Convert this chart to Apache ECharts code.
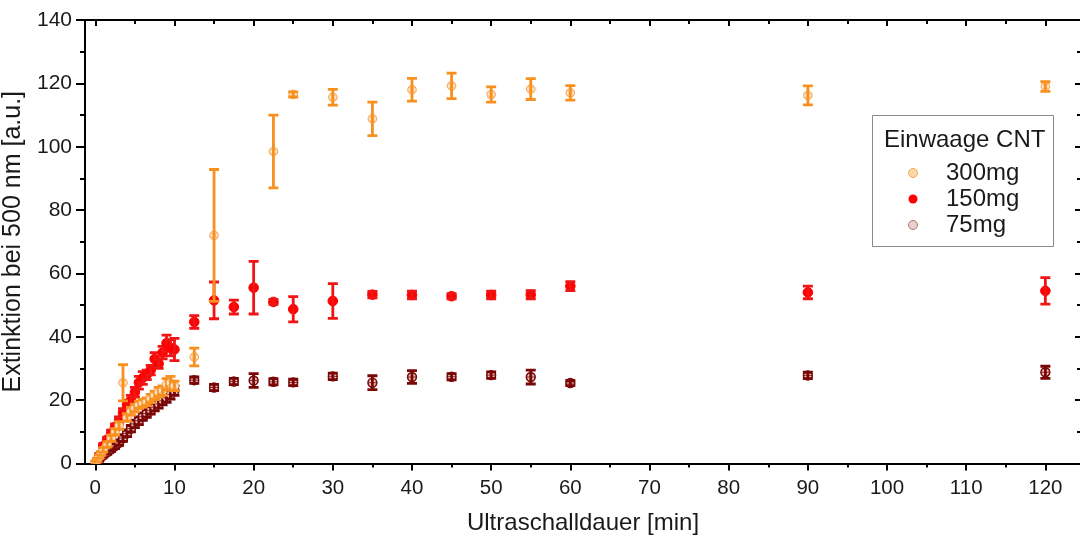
<!DOCTYPE html>
<html>
<head>
<meta charset="utf-8">
<script src="https://cdn.jsdelivr.net/npm/echarts@6/dist/echarts.min.js"></script>
<style>
html,body{margin:0;padding:0;background:#fff;}
#c{width:1080px;height:543px;}
</style>
</head>
<body>
<div id="c"></div>
<script>
// ---- data (time in min, extinction, error) ----
const t300 = [0, 0.25, 0.5, 0.75, 1, 1.5, 2, 2.5, 3, 3.5, 4, 4.5, 5, 5.5, 6, 6.5, 7, 7.5, 8, 8.5, 9, 9.5, 10, 12.5, 15, 22.5, 25, 30, 35, 40, 45, 50, 55, 60, 90, 120];
const v300 = [0.3, 1.2, 2.2, 3.2, 4.3, 6, 8, 10, 12, 25.5, 14.5, 16.5, 17.5, 18.5, 19, 19.5, 20.5, 21.5, 22.5, 23, 25, 25.5, 24.5, 33.6, 72, 98.5, 116.5, 115.6, 108.8, 118, 119.2, 116.5, 118.2, 117, 116.2, 119];
const e300 = [0.5, 0.5, 0.6, 0.6, 0.7, 0.8, 1, 1, 1.2, 5.7, 1.2, 1.2, 1.2, 1.2, 1.2, 1.2, 1.3, 1.3, 1.5, 1.5, 1.8, 2, 1.5, 2.8, 20.8, 11.5, 0.8, 2.5, 5.3, 3.6, 4, 2.4, 3.3, 2.3, 3, 1.5];

const t150 = [0.25, 0.5, 1, 1.5, 2, 2.5, 3, 3.5, 4, 4.5, 5, 5.5, 6, 6.5, 7, 7.5, 8, 8.5, 9, 9.5, 10, 12.5, 15, 17.5, 20, 22.5, 25, 30, 35, 40, 45, 50, 55, 60, 90, 120];
const v150 = [1, 2.5, 5.5, 7.5, 9.5, 11.5, 13.5, 16, 18.5, 20, 22.5, 25.5, 27, 28, 29.5, 33, 31.5, 35, 38, 36.5, 36, 44.7, 51.5, 49.4, 55.5, 51, 48.7, 51.3, 53.3, 53.2, 52.8, 53.2, 53.3, 56, 54, 54.5];
const e150 = [0.5, 0.6, 0.8, 0.8, 1, 1, 1.2, 1.3, 1.5, 1.5, 1.5, 2, 2, 1.5, 1.5, 2, 1.5, 2, 2.5, 2.5, 3.5, 2, 5.8, 2.2, 8.3, 0.8, 4, 5.5, 1, 1.2, 0.8, 1.2, 1.3, 1.4, 2, 4.2];

const t75 = [0.25, 0.5, 1, 1.5, 2, 2.5, 3, 3.5, 4, 4.5, 5, 5.5, 6, 6.5, 7, 7.5, 8, 8.5, 9, 9.5, 10, 12.5, 15, 17.5, 20, 22.5, 25, 30, 35, 40, 45, 50, 55, 60, 90, 120];
const v75 = [0.5, 1.2, 2.5, 3.5, 4.5, 5.5, 6.5, 8, 9.5, 11, 12.5, 13.5, 14.8, 15.8, 16.8, 17.8, 18.8, 19.8, 20.8, 21.8, 23, 26.3, 24, 25.9, 26.2, 25.8, 25.6, 27.5, 25.5, 27.3, 27.4, 27.9, 27.3, 25.4, 27.8, 28.8];
const e75 = [0.3, 0.4, 0.5, 0.6, 0.7, 0.8, 0.8, 1, 1, 1, 1.2, 1.2, 1.2, 1.2, 1.2, 1.2, 1.3, 1.3, 1.5, 1.5, 1.5, 1, 1, 1, 2.2, 1, 1, 1, 2.2, 2, 1, 1, 2.2, 0.8, 1, 1.9];

const seriesNames = ['300mg', '150mg', '75mg'];
const xMajorTicks = [0, 10, 20, 30, 40, 50, 60, 70, 80, 90, 100, 110, 120];
const xMinorTicks = [5, 15, 25, 35, 45, 55, 65, 75, 85, 95, 105, 115];

const FONT = '"Liberation Sans", Arial, sans-serif';
const X_MIN = -1.3, X_MAX = 124.5;

function rows(t, v, e) { return t.map((x, i) => [x, v[i], e[i]]); }

function makeRender(st) {
  return function (params, api) {
    const x = api.value(0), y = api.value(1), e = api.value(2);
    const c = api.coord([x, y]);
    const top = api.coord([x, y + e])[1];
    const bot = api.coord([x, y - e])[1];
    const hw = 5;
    const ls = { stroke: st.bar, lineWidth: 2.8 };
    const ch = [
      { type: 'circle', shape: { cx: c[0], cy: c[1], r: st.r }, style: { fill: st.fill, stroke: st.stroke, lineWidth: st.lw } }
    ];
    const r = st.r * 0.7;
    if (st.cross === 'x') {
      ch.push({ type: 'line', shape: { x1: c[0] - r, y1: c[1] - r, x2: c[0] + r, y2: c[1] + r }, style: { stroke: st.stroke, lineWidth: 0.8 } });
      ch.push({ type: 'line', shape: { x1: c[0] - r, y1: c[1] + r, x2: c[0] + r, y2: c[1] - r }, style: { stroke: st.stroke, lineWidth: 0.8 } });
    } else if (st.cross === '+') {
      ch.push({ type: 'line', shape: { x1: c[0] - st.r, y1: c[1], x2: c[0] + st.r, y2: c[1] }, style: { stroke: st.stroke, lineWidth: 0.8 } });
    }
    ch.push(
      { type: 'line', shape: { x1: c[0], y1: top, x2: c[0], y2: bot }, style: ls },
      { type: 'line', shape: { x1: c[0] - hw, y1: top, x2: c[0] + hw, y2: top }, style: ls },
      { type: 'line', shape: { x1: c[0] - hw, y1: bot, x2: c[0] + hw, y2: bot }, style: ls }
    );
    return { type: 'group', children: ch };
  };
}

const st300 = { bar: '#f7901e', fill: '#fde4c6', stroke: '#f5a14a', lw: 1, r: 4.3, cross: 'x' };
const st150 = { bar: '#f01414', fill: '#ff0000', stroke: '#ff0000', lw: 1, r: 4.8, cross: null };
const st75 = { bar: '#7a0606', fill: '#e6c2bd', stroke: '#7a0a0a', lw: 1.6, r: 4.4, cross: '+' };

const axisLineStyle = { color: '#000', width: 2 };
function xAx(pos, ticks, len, inside, showLine) {
  return {
    type: 'value', position: pos, min: X_MIN, max: X_MAX,
    axisLine: { show: showLine, onZero: false, lineStyle: axisLineStyle },
    axisTick: { show: true, inside: inside, length: len, customValues: ticks, lineStyle: { color: '#000', width: 2 } },
    axisLabel: { show: false },
    splitLine: { show: false }
  };
}

const xAxes = [
  Object.assign(xAx('bottom', xMajorTicks, 7, false, true), {
    axisLabel: { show: true, customValues: xMajorTicks, fontSize: 20.5, color: '#1a1a1a', fontFamily: FONT, margin: 14 },
    name: 'Ultraschalldauer [min]', nameLocation: 'middle', nameGap: 48,
    nameTextStyle: { fontSize: 24, color: '#1a1a1a', fontFamily: FONT }
  }),
  xAx('bottom', xMinorTicks, 4, false, false),
  xAx('top', xMajorTicks, 6, true, true),
  xAx('top', xMinorTicks, 4, true, false)
];

const yAxes = [
  {
    type: 'value', position: 'left', min: 0, max: 140, interval: 20,
    axisLine: { show: true, onZero: false, lineStyle: axisLineStyle },
    axisTick: { show: true, length: 9, lineStyle: { color: '#000', width: 2 } },
    minorTick: { show: true, splitNumber: 2, length: 5, lineStyle: { color: '#000', width: 2 } },
    axisLabel: { fontSize: 21, color: '#1a1a1a', fontFamily: FONT, margin: 13 },
    splitLine: { show: false },
    name: 'Extinktion bei 500 nm [a.u.]', nameLocation: 'middle', nameGap: 50,
    nameTextStyle: { fontSize: 25, color: '#1a1a1a', fontFamily: FONT }
  },
  {
    type: 'value', position: 'right', min: 0, max: 140, interval: 20,
    axisLine: { show: true, onZero: false, lineStyle: axisLineStyle },
    axisTick: { show: true, inside: true, length: 6, lineStyle: { color: '#000', width: 2 } },
    minorTick: { show: true, splitNumber: 2, length: 4, lineStyle: { color: '#000', width: 2 } },
    axisLabel: { show: false },
    splitLine: { show: false }
  }
];

const chart = echarts.init(document.getElementById('c'), null, { renderer: 'canvas' });
chart.setOption({
  animation: false,
  backgroundColor: '#fff',
  textStyle: { fontFamily: FONT },
  grid: { left: 85, top: 20, width: 996, height: 443.5, containLabel: false, outerBoundsMode: 'none' },
  xAxis: xAxes,
  yAxis: yAxes,
  legend: {
    orient: 'vertical', left: 903, top: 156, itemGap: 2,
    itemWidth: 56, itemHeight: 9,
    textStyle: { fontSize: 24, color: '#1a1a1a', fontFamily: FONT },
    data: [
      { name: '300mg', icon: 'circle', itemStyle: { color: '#fbd7aa', borderColor: '#f5a85a', borderWidth: 1 } },
      { name: '150mg', icon: 'circle', itemStyle: { color: '#ff0000', borderWidth: 0 } },
      { name: '75mg', icon: 'circle', itemStyle: { color: '#ead0cc', borderColor: '#b07870', borderWidth: 1 } }
    ],
    selectedMode: false
  },
  graphic: [
    { type: 'rect', left: 872, top: 115, shape: { width: 181, height: 131 }, style: { fill: '#fff', stroke: '#8a8a8a', lineWidth: 1 }, z: 1 },
    { type: 'text', left: 884, top: 128, style: { text: 'Einwaage CNT', font: '24px ' + FONT, fill: '#1a1a1a' }, z: 2 }
  ],
  series: [
    { name: '75mg', type: 'custom', data: rows(t75, v75, e75), renderItem: makeRender(st75), itemStyle: { color: '#7a0606' }, z: 3, clip: true },
    { name: '150mg', type: 'custom', data: rows(t150, v150, e150), renderItem: makeRender(st150), itemStyle: { color: '#ff0000' }, z: 4, clip: true },
    { name: '300mg', type: 'custom', data: rows(t300, v300, e300), renderItem: makeRender(st300), itemStyle: { color: '#f7901e' }, z: 5, clip: true }
  ]
});
</script>
</body>
</html>
